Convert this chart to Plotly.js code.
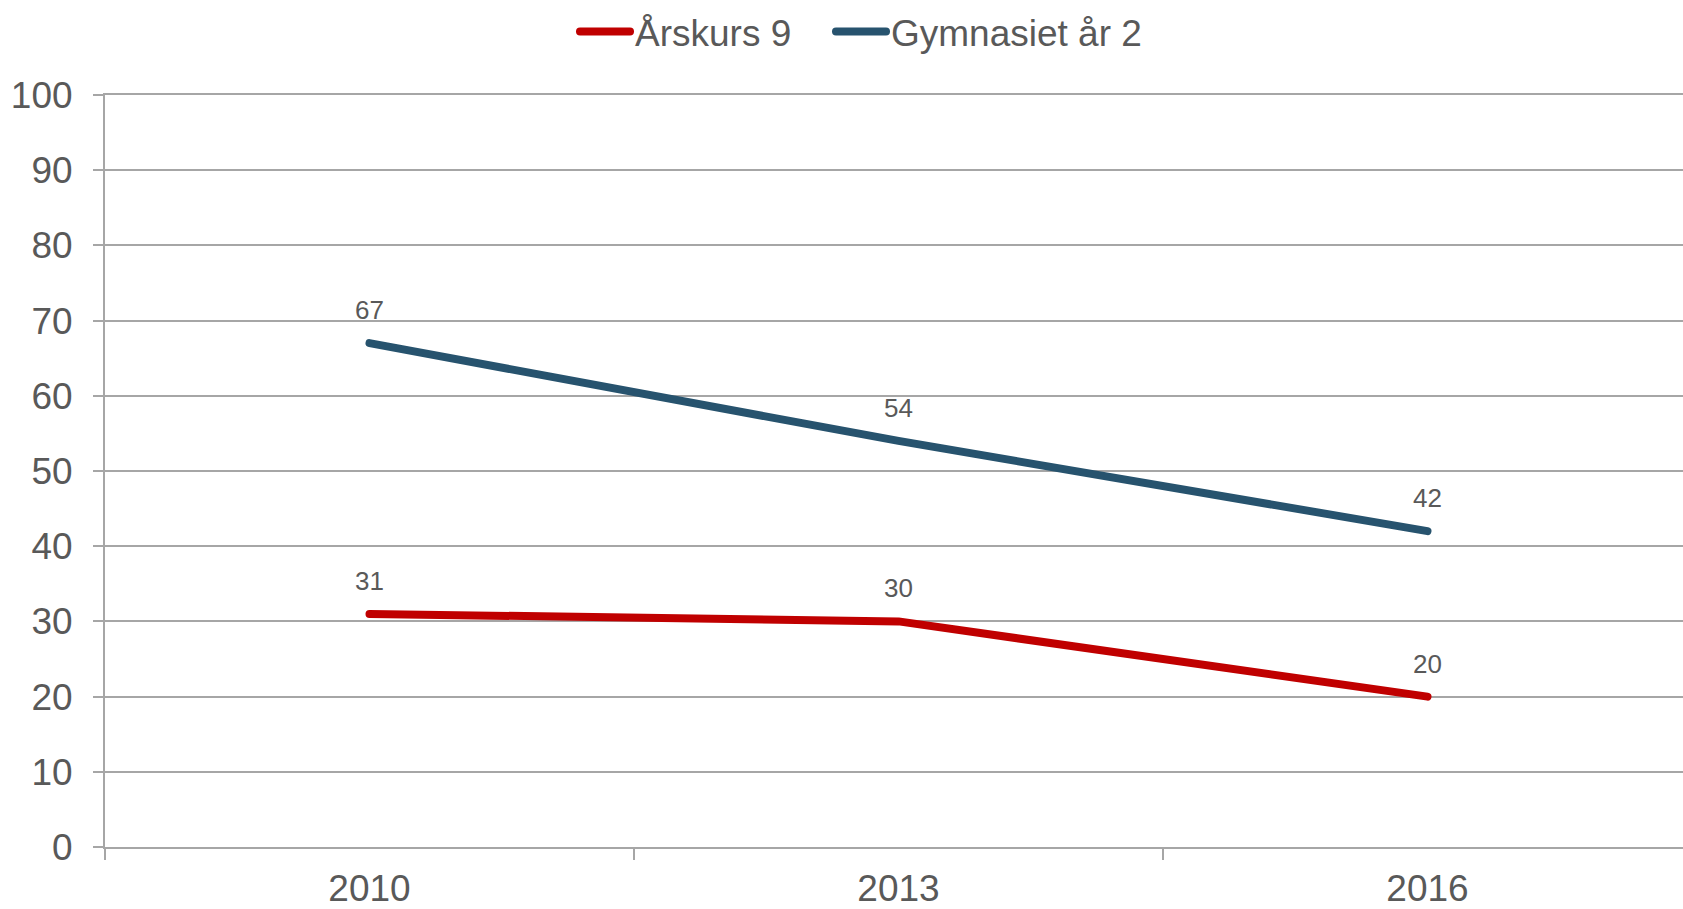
<!DOCTYPE html>
<html>
<head>
<meta charset="utf-8">
<script src="https://cdn.plot.ly/plotly-3.0.1.min.js"></script>
<style>
html,body{margin:0;padding:0;background:#fff;}
#chart{width:1683px;height:909px;}
.js-line, .legendlines path { stroke-linecap: round !important; stroke-linejoin: round !important; }
</style>
</head>
<body>
<div id="chart"></div>
<script>
const years = ["2010", "2013", "2016"];
const arskurs9 = [31, 30, 20];
const gymnasiet2 = [67, 54, 42];
const seriesNames = ["Årskurs 9", "Gymnasiet år 2"];
const yTicks = [0, 10, 20, 30, 40, 50, 60, 70, 80, 90, 100];

const FONT = "Liberation Sans, Arial, sans-serif";
const TXT = "#595959";
const GRID = "#a6a6a6";
const colors = ["#c00000", "#27536e"];
const legendIds = ["legend", "legend2"];
const legendX = [575, 831];

const traces = [arskurs9, gymnasiet2].map((vals, i) => ({
  type: "scatter",
  mode: "lines",
  x: years,
  y: vals,
  name: seriesNames[i],
  legend: legendIds[i],
  line: {color: colors[i], width: 8},
  hoverinfo: "skip"
}));

const annotations = [];
[arskurs9, gymnasiet2].forEach(vals => {
  vals.forEach((v, j) => {
    annotations.push({
      x: j, y: v, xref: "x", yref: "y",
      text: String(v), showarrow: false,
      yshift: 33,
      font: {family: FONT, size: 26, color: TXT}
    });
  });
});

function legendCfg(px) {
  return {
    orientation: "h",
    x: px/1683, xref: "container", xanchor: "left",
    y: 1 - 32/909, yref: "container", yanchor: "middle",
    font: {family: FONT, size: 37, color: TXT},
    itemwidth: 50,
    bgcolor: "rgba(0,0,0,0)"
  };
}

const layout = {
  width: 1683, height: 909,
  margin: {l: 105, r: 0, t: 95, b: 62, pad: 0},
  paper_bgcolor: "#fff", plot_bgcolor: "#fff",
  font: {family: FONT, color: TXT},
  showlegend: true,
  legend: legendCfg(legendX[0]),
  legend2: legendCfg(legendX[1]),
  xaxis: {
    type: "category",
    range: [-0.5, 2.483],
    tickson: "boundaries",
    ticks: "outside", ticklen: 11, tickwidth: 2, tickcolor: GRID,
    showline: true, linecolor: GRID, linewidth: 2, mirror: true,
    showgrid: false, zeroline: false,
    tickfont: {family: FONT, size: 37, color: TXT},
    ticklabelstandoff: 8,
    fixedrange: true
  },
  yaxis: {
    range: [0, 100],
    tickvals: yTicks,
    ticktext: yTicks.map(String),
    ticks: "outside", ticklen: 10, tickwidth: 2, tickcolor: GRID,
    showline: true, linecolor: GRID, linewidth: 2,
    showgrid: true, gridcolor: GRID, gridwidth: 2,
    zeroline: false,
    tickfont: {family: FONT, size: 37, color: TXT},
    ticklabelstandoff: 13,
    fixedrange: true
  },
  annotations: annotations
};

Plotly.newPlot("chart", traces, layout, {displayModeBar: false, staticPlot: true});
</script>
</body>
</html>
